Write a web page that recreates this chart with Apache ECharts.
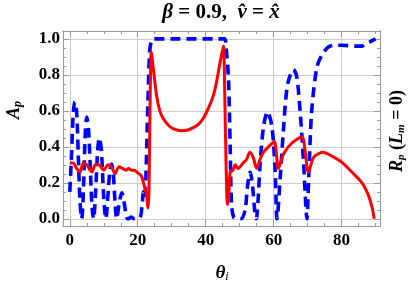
<!DOCTYPE html>
<html><head><meta charset="utf-8">
<script src="https://cdn.jsdelivr.net/npm/echarts@6/dist/echarts.min.js"></script>
<style>html,body{margin:0;padding:0;background:#fff}#c{width:415px;height:285px}</style>
</head><body><div id="c"></div>
<script>
// A_p (red, solid)
const redTheta = [0,1,2,3,4,5,6,6.5,7.5,8.5,9.5,10,11.2,12.5,13.3,14.5,15.5,16.5,17.3,18.2,19,20,21,21.7,22.6,23,23.3,23.6,24,24.5,25.5,26.5,27.5,29,30.5,33,35,37.5,39,40.3,41.8,42.8,44.3,45.2,45.6,46,46.4,46.7,47.2,48,48.7,49.5,51,52,53,54,55,56,57,59,60.2,61.4,62.9,65.3,68.3,69.3,70.2,71.7,73,74.5,77,80,83,86,87.9,89,89.6];
const redValues = [0.31,0.31,0.28,0.26,0.31,0.30,0.27,0.26,0.30,0.30,0.28,0.27,0.30,0.28,0.25,0.29,0.28,0.27,0.28,0.27,0.27,0.255,0.24,0.2,0.13,0.06,0.15,0.6,0.93,0.85,0.69,0.6,0.557,0.52,0.50,0.49,0.495,0.52,0.55,0.595,0.66,0.725,0.875,0.96,0.7,0.3,0.08,0.1,0.26,0.27,0.30,0.28,0.31,0.33,0.37,0.34,0.28,0.33,0.37,0.41,0.43,0.28,0.36,0.42,0.455,0.37,0.26,0.34,0.36,0.37,0.35,0.315,0.26,0.2,0.13,0.06,0];
// R_p (blue, dashed)
const blueTheta = [0,0.5,1,1.5,2,2.5,3,3.5,4,4.5,5,5.5,6,6.5,7,7.6,8.2,8.7,9.3,9.9,10.6,11.3,11.8,12.3,12.8,13.3,13.8,14.5,15.3,16,16.7,17.3,18,19,20,20.8,21.3,21.7,22.1,22.5,23,23.5,24,24.5,45.5,46,46.7,47.2,47.6,48.2,49,50.4,51.6,52.3,53.1,53.8,54.4,54.9,55.4,56,57,58.2,59.5,60.4,61,61.9,62.9,63.9,64.9,65.8,66.8,67.8,68.8,69.8,70.3,71.2,72.7,74.2,76.1,78,80,84,86,87.4,89,90];
const blueValues = [0.15,0.35,0.58,0.65,0.6,0.35,0.1,0,0.15,0.45,0.565,0.5,0.3,0.08,0,0.15,0.38,0.45,0.38,0.15,0,0.15,0.27,0.305,0.25,0.1,0,0.08,0.145,0.09,0.01,0,0.01,0,0,0.01,0.08,0.15,0.12,0.3,0.65,0.93,0.99,1.0,1.0,0.95,0.78,0.4,0.08,0.01,0,0,0.05,0.18,0.26,0.18,0.05,0,0.1,0.3,0.51,0.595,0.51,0.28,0,0.22,0.5,0.725,0.8,0.83,0.79,0.595,0.315,0,0.22,0.6,0.84,0.91,0.955,0.965,0.965,0.96,0.96,0.975,0.99,1.0];
const xMajor = [0,20,40,60,80];
const xMinor = [5,10,15,25,30,35,45,50,55,65,70,75,85,90];
const yMajor = [0,0.2,0.4,0.6,0.8,1.0];
const yMinor = [0.05,0.1,0.15,0.25,0.3,0.35,0.45,0.5,0.55,0.65,0.7,0.75,0.85,0.9,0.95];

const serif = '"Liberation Serif","DejaVu Serif",serif';
const frame = '#999999';
const X = {min:-2, max:91.3}, Y = {min:-0.04, max:1.044};
function xa(pos, major, labels){
  return {type:'value', position:pos, min:X.min, max:X.max,
    axisLine:{show:true, onZero:false, lineStyle:{color:frame, width:1}},
    axisTick:{show:true, inside:true, length: major?6:3, customValues: major?xMajor:xMinor, lineStyle:{color:frame}},
    axisLabel: labels?{show:true, customValues:xMajor, color:'#000', fontFamily:serif, fontWeight:'bold', fontSize:17, margin:6}:{show:false},
    splitLine:{show: labels, lineStyle:{color:'#cccccc', width:1}}
  };
}
function ya(pos, major, labels){
  return {type:'value', position:pos, min:Y.min, max:Y.max,
    axisLine:{show:true, onZero:false, lineStyle:{color:frame, width:1}},
    axisTick:{show:true, inside:true, length: major?6:3, customValues: major?yMajor:yMinor, lineStyle:{color:frame}},
    axisLabel: labels?{show:true, customValues:yMajor, color:'#000', fontFamily:serif, fontWeight:'bold', fontSize:17, margin:3, formatter:v=>v.toFixed(1)}:{show:false},
    splitLine:{show: labels, lineStyle:{color:'#cccccc', width:1}}
  };
}
const it = {fontFamily:serif, fontWeight:'bold', fontStyle:'italic'};
const up = {fontFamily:serif, fontWeight:'bold', fontStyle:'normal'};
const chart = echarts.init(document.getElementById('c'), null, {renderer:'canvas'});
chart.setOption({
  animation:false,
  backgroundColor:'#fff',
  grid:{left:63, right:35, top:31, bottom:59},
  xAxis:[xa('bottom',true,true), xa('bottom',false,false), xa('top',true,false), xa('top',false,false)],
  yAxis:[ya('left',true,true), ya('left',false,false), ya('right',true,false), ya('right',false,false)],
  series:[
    {type:'line', name:'R_p', xAxisIndex:0, yAxisIndex:0, data: blueTheta.map((t,i)=>[t,blueValues[i]]), showSymbol:false, smooth:0.3,
     lineStyle:{color:'#0000ff', width:3.6, type:[10,6]}, z:2},
    {type:'line', name:'A_p', xAxisIndex:0, yAxisIndex:0, data: redTheta.map((t,i)=>[t,redValues[i]]), showSymbol:false, smooth:0.3,
     lineStyle:{color:'#ff0000', width:3}, z:3}
  ],
  graphic:[
    {type:'text', x:221, y:13, style:{text:'{b|β}{n| = 0.9,  }{b|v̂}{n| = }{b|x̂}', align:'center', verticalAlign:'middle',
      rich:{b:Object.assign({fontSize:21}, it), n:Object.assign({fontSize:21}, up)}}},
    {type:'text', x:222, y:273, style:{text:'{t|θ}{s|i}', align:'center', verticalAlign:'middle',
      rich:{t:Object.assign({fontSize:19}, it), s:{fontFamily:serif, fontStyle:'italic', fontSize:12, padding:[8,0,0,0]}}}},
    {type:'text', x:14, y:110, rotation:Math.PI/2, style:{text:'{t|A}{s|p}', align:'center', verticalAlign:'middle',
      rich:{t:Object.assign({fontSize:18}, it), s:Object.assign({fontSize:12, padding:[8,0,0,0]}, it)}}},
    {type:'text', x:397, y:131, rotation:Math.PI/2, style:{text:'{t|R}{s|p}{u| (}{t|L}{s|m}{u| = 0)}', align:'center', verticalAlign:'middle',
      rich:{t:Object.assign({fontSize:18}, it), u:Object.assign({fontSize:18}, up), s:Object.assign({fontSize:11, padding:[8,0,0,0]}, it)}}}
  ]
});
</script></body></html>
